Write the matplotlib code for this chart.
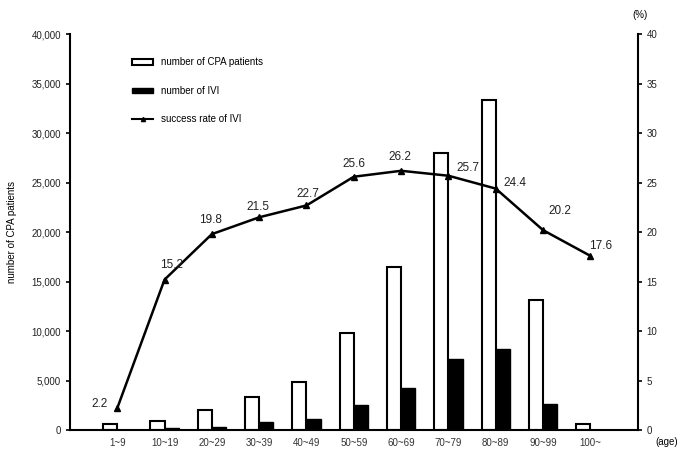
import matplotlib.pyplot as plt
import numpy as np
from matplotlib.patches import Patch
from matplotlib.lines import Line2D

plt.rcParams['font.family'] = ['Liberation Sans', 'DejaVu Sans']

ages = ["1~9", "10~19", "20~29", "30~39", "40~49", "50~59",
        "60~69", "70~79", "80~89", "90~99", "100~"]
cpa = [600, 900, 2000, 3300, 4900, 9800, 16500, 28000, 33400, 13100, 600]
ivi = [50, 200, 350, 800, 1100, 2500, 4300, 7200, 8200, 2600, 50]
rate = [2.2, 15.2, 19.8, 21.5, 22.7, 25.6, 26.2, 25.7, 24.4, 20.2, 17.6]

# label offsets (pixels) for the rate annotations
offs = [(-18, 4), (7, 15), (-1, 14), (-1, 10), (1, 11), (0, 13),
        (-1, 14), (19, 8), (19, 6), (17, 19), (10, 10)]

fig = plt.figure(figsize=(6.85, 4.62), dpi=100)
fig.patch.set_facecolor("white")
ax = fig.add_axes([0.102, 0.069, 0.829, 0.857])

pos = np.arange(1, len(ages) + 1)
w = 0.3
ax.bar(pos - w / 2, cpa, width=w, color="white", edgecolor="black", lw=1.5, zorder=2)
ax.bar(pos + w / 2, ivi, width=w, color="black", edgecolor="black", lw=1.0, zorder=2)

ax.set_xlim(0, 12)
ax.set_ylim(0, 40000)
ax.set_yticks(np.arange(0, 40001, 5000))
ax.set_yticklabels([f"{v:,}" for v in range(0, 40001, 5000)], fontsize=7, color="#222222")
ax.set_xticks(pos)
ax.set_xticklabels(ages, fontsize=7, color="#333333")
ax.tick_params(axis="x", length=0, pad=6)
ax.tick_params(axis="y", length=3, width=1.2, direction="out")
for s in ["top", "right"]:
    ax.spines[s].set_visible(False)
ax.spines["left"].set_linewidth(1.5)
ax.spines["bottom"].set_linewidth(1.5)
ax.set_ylabel("number of CPA patients", fontsize=7, labelpad=10)

ax2 = ax.twinx()
ax2.plot(pos, rate, color="black", lw=1.8, marker="^", ms=5, zorder=3)
ax2.set_ylim(0, 40)
ax2.set_yticks(np.arange(0, 41, 5))
ax2.tick_params(axis="y", length=3, width=1.2, direction="out", labelsize=7,
                labelcolor="#222222")
for s in ["top", "left", "bottom"]:
    ax2.spines[s].set_visible(False)
ax2.spines["right"].set_linewidth(1.5)

for p, r, (dx, dy) in zip(pos, rate, offs):
    ax2.annotate(f"{r}", (p, r), xytext=(dx, dy), textcoords="offset pixels",
                 ha="center", va="center", fontsize=8.5, color="#222222")

fig.text(0.934, 0.968, "(%)", fontsize=7, ha="center", va="center")
fig.text(0.973, 0.043, "(age)", fontsize=7, ha="center", va="center")

handles = [Patch(facecolor="white", edgecolor="black", lw=1.5),
           Patch(facecolor="black", edgecolor="black"),
           Line2D([], [], color="black", lw=1.5, marker="^", ms=3)]
labels = ["number of CPA patients", "number of IVI", "success rate of IVI"]
fig.legend(handles, labels, loc="upper left", bbox_to_anchor=(0.18, 0.895),
           frameon=False, fontsize=7, labelspacing=1.9, handlelength=2.2,
           handleheight=0.5)

plt.savefig("out.png", dpi=100, facecolor="white")
